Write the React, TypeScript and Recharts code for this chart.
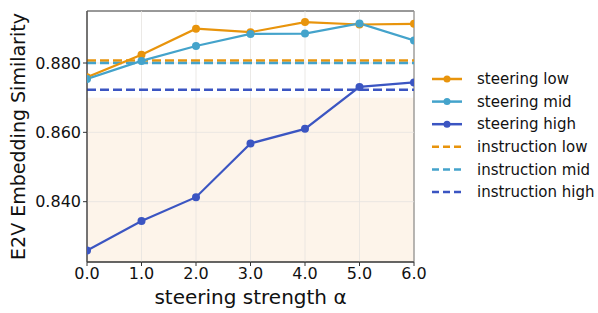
import React from 'react';
import { LineChart, Line, XAxis, YAxis, ReferenceArea, ReferenceLine } from 'recharts';

const alphas = [0, 1, 2, 3, 4, 5, 6];
const steeringLow = [0.8759, 0.8824, 0.8899, 0.8889, 0.8918, 0.8911, 0.8913];
const steeringMid = [0.8754, 0.8806, 0.8849, 0.8884, 0.8885, 0.8914, 0.8865];
const steeringHigh = [0.8259, 0.8344, 0.8413, 0.8568, 0.861, 0.8731, 0.8744];
const instructionLow = 0.8807;
const instructionMid = 0.88;
const instructionHigh = 0.8723;
const shadeTop = 0.87;
const yTicks = [0.84, 0.86, 0.88];
const xTicks = [0, 1, 2, 3, 4, 5, 6];
const Y_MIN = 0.8226;
const Y_MAX = 0.895;

const C_LOW = '#E8940C';
const C_MID = '#44A3CB';
const C_HIGH = '#3B55C2';
const FONT = "'DejaVu Sans'";

const data = alphas.map((a, i) => ({ a, low: steeringLow[i], mid: steeringMid[i], high: steeringHigh[i] }));

const legendItems = [
  { name: 'steering low', color: C_LOW, dashed: false },
  { name: 'steering mid', color: C_MID, dashed: false },
  { name: 'steering high', color: C_HIGH, dashed: false },
  { name: 'instruction low', color: C_LOW, dashed: true },
  { name: 'instruction mid', color: C_MID, dashed: true },
  { name: 'instruction high', color: C_HIGH, dashed: true },
];

const LegendBox = () => (
  <svg width={170} height={150} style={{ position: 'absolute', left: 430, top: 69, display: 'block' }}>
    {legendItems.map((it, i) => {
      const y = 10 + i * 22.6;
      return (
        <g key={it.name}>
          <line x1={2} x2={32} y1={y} y2={y} stroke={it.color} strokeWidth={2.5} strokeDasharray={it.dashed ? '7 4' : undefined} />
          {!it.dashed && <circle cx={17} cy={y} r={3.5} fill={it.color} />}
          <text x={47} y={y} dy="0.35em" fontSize={15} style={{ fontFamily: FONT }} fill="#111">{it.name}</text>
        </g>
      );
    })}
  </svg>
);

export default function App() {
  return (
    <div style={{ position: 'absolute', left: 0, top: 0, width: 598, height: 313, background: '#fff', fontFamily: FONT }}>
      <LineChart width={598} height={313} data={data} margin={{ top: 11, right: 184, bottom: 0, left: 0 }} style={{ fontFamily: FONT }}>
        <XAxis
          dataKey="a"
          type="number"
          domain={[0, 6]}
          ticks={xTicks}
          allowDataOverflow
          height={51}
          tickFormatter={(v: number) => v.toFixed(1)}
          tick={{ fontSize: 16, fill: '#111', style: { fontFamily: FONT } }}
          tickLine={{ stroke: '#333' }}
          axisLine={{ stroke: '#333' }}
          tickSize={4}
          label={{ value: 'steering strength α', position: 'insideBottom', offset: 9, fontSize: 20, fill: '#111', style: { fontFamily: FONT } }}
        />
        <YAxis
          type="number"
          domain={[Y_MIN, Y_MAX]}
          ticks={yTicks}
          allowDataOverflow
          width={87}
          tickFormatter={(v: number) => v.toFixed(3)}
          tick={{ fontSize: 16, fill: '#111', style: { fontFamily: FONT } }}
          tickLine={{ stroke: '#333' }}
          axisLine={{ stroke: '#333' }}
          tickSize={4}
          label={{ value: 'E2V Embedding Similarity', angle: -90, position: 'insideLeft', offset: 18, fontSize: 19, fill: '#111', style: { textAnchor: 'middle', fontFamily: FONT } }}
        />
        <ReferenceArea x1={0} x2={6} y1={Y_MIN} y2={shadeTop} fill="#FDF4EA" fillOpacity={1} stroke="none" ifOverflow="hidden" />
        {xTicks.map((t) => (
          <ReferenceLine key={'gx' + t} x={t} stroke="#E6E3DF" strokeWidth={0.8} />
        ))}
        {yTicks.map((t) => (
          <ReferenceLine key={'gy' + t} y={t} stroke="#E6E3DF" strokeWidth={0.8} />
        ))}
        <ReferenceLine y={instructionLow} stroke={C_LOW} strokeWidth={2.5} strokeDasharray="9 4" />
        <ReferenceLine y={instructionMid} stroke={C_MID} strokeWidth={2.5} strokeDasharray="9 4" />
        <ReferenceLine y={instructionHigh} stroke={C_HIGH} strokeWidth={2.5} strokeDasharray="9 4" />
        <Line dataKey="low" stroke={C_LOW} strokeWidth={2.2} dot={{ r: 4, fill: C_LOW, stroke: C_LOW, strokeWidth: 0 }} isAnimationActive={false} />
        <Line dataKey="mid" stroke={C_MID} strokeWidth={2.2} dot={{ r: 4, fill: C_MID, stroke: C_MID, strokeWidth: 0 }} isAnimationActive={false} />
        <Line dataKey="high" stroke={C_HIGH} strokeWidth={2.2} dot={{ r: 4, fill: C_HIGH, stroke: C_HIGH, strokeWidth: 0 }} isAnimationActive={false} />
        <ReferenceArea x1={0} x2={6} y1={Y_MIN} y2={Y_MAX} fill="none" stroke="#333" strokeWidth={1} ifOverflow="visible" />
      </LineChart>
      <LegendBox />
    </div>
  );
}
